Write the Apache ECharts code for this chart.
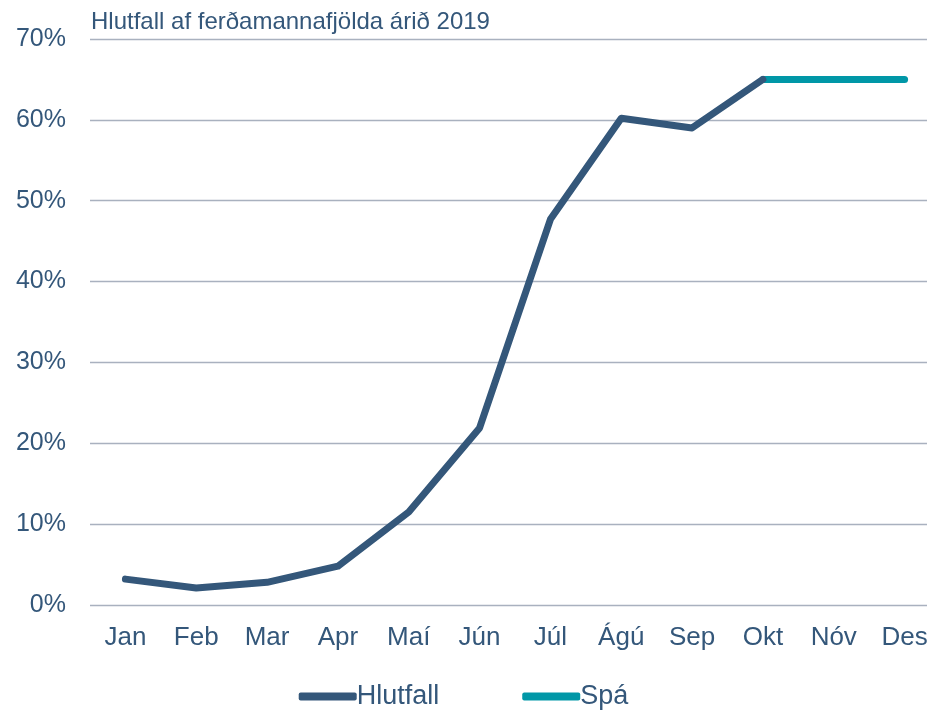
<!DOCTYPE html>
<html>
<head>
<meta charset="utf-8">
<script src="https://cdn.jsdelivr.net/npm/echarts@6/dist/echarts.min.js"></script>
<style>
html, body { margin: 0; padding: 0; background: #fff; }
#main { width: 927px; height: 710px; }
</style>
</head>
<body>
<div id="main"></div>
<script>
// hlutfall af ferðamannafjölda
var months = ['Jan', 'Feb', 'Mar', 'Apr', 'Maí', 'Jún', 'Júl', 'Ágú', 'Sep', 'Okt', 'Nóv', 'Des'];
var hlutfall = [3.2, 2.1, 2.8, 4.8, 11.5, 21.9, 47.7, 60.2, 59.0, 65.0, null, null];
var spa = [null, null, null, null, null, null, null, null, null, 65.0, 65.0, 65.0];

var textColor = '#34577A';
var myChart = echarts.init(document.getElementById('main'));

var option = {
    backgroundColor: '#fff',
    animation: false,
    title: {
        text: 'Hlutfall af ferðamannafjölda árið 2019',
        left: 86,
        top: 5,
        textStyle: {
            color: textColor,
            fontFamily: 'Liberation Sans',
            fontWeight: 'normal',
            fontSize: 24
        }
    },
    grid: {
        left: 90,
        right: -13, // myndin er skorin hægra megin
        top: 39,
        bottom: 105,
        outerBoundsMode: 'none'
    },
    legend: {
        bottom: -5,
        left: 'center',
        itemWidth: 58,
        itemHeight: 8,
        itemGap: 83,
        textStyle: {
            color: textColor,
            fontFamily: 'Liberation Sans',
            fontSize: 27,
            padding: [0, 0, 0, -5]
        },
        data: [
            { name: 'Hlutfall', icon: 'roundRect' },
            { name: 'Spá', icon: 'roundRect' }
        ]
    },
    xAxis: {
        type: 'category',
        data: months,
        boundaryGap: true,
        axisLine: { show: false },
        axisTick: { show: false },
        axisLabel: {
            color: textColor,
            fontFamily: 'Liberation Sans',
            fontSize: 26,
            margin: 20
        }
    },
    yAxis: {
        type: 'value',
        min: 0,
        max: 70,
        interval: 10,
        axisLine: { show: false },
        axisTick: { show: false },
        axisLabel: {
            color: textColor,
            fontFamily: 'Liberation Sans',
            fontSize: 25,
            margin: 24,
            padding: [9, 0, 0, 0],
            formatter: '{value}%'
        },
        splitLine: {
            lineStyle: { color: '#A9B1BF', width: 1.3 }
        }
    },
    series: [
        {
            name: 'Hlutfall',
            type: 'line',
            data: hlutfall,
            showSymbol: false,
            symbol: 'none',
            color: '#34577A',
            lineStyle: { width: 7, cap: 'round', join: 'round' },
            z: 3
        },
        {
            name: 'Spá',
            type: 'line',
            data: spa,
            showSymbol: false,
            symbol: 'none',
            color: '#0097A7',
            lineStyle: { width: 7, cap: 'round', join: 'round' },
            z: 2
        }
    ]
};

myChart.setOption(option);
window.addEventListener('resize', function () {
    myChart.resize();
});
</script>
</body>
</html>
